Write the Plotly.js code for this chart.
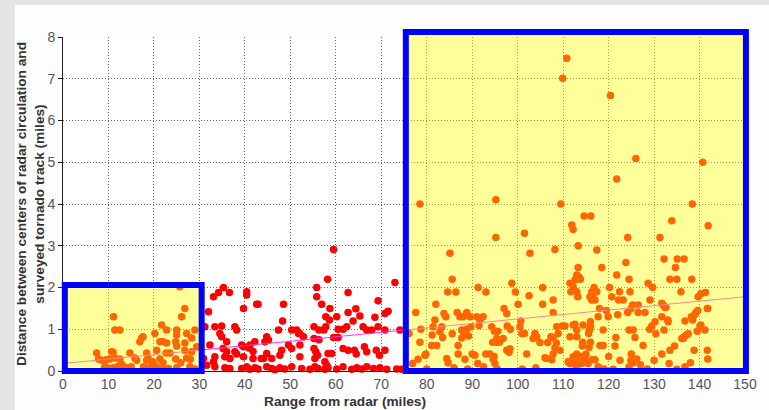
<!DOCTYPE html>
<html>
<head>
<meta charset="utf-8">
<script src="https://cdn.plot.ly/plotly-3.0.1.min.js"></script>
<style>
  html, body { margin: 0; padding: 0; background: #fdfdfd; }
  #wrap { position: relative; width: 769px; height: 410px; background: #fdfdfd;
          box-shadow: inset 15px 5px 0 0 #e4e4e4; overflow: hidden; }
  #chart { position: absolute; left: 0; top: 0; width: 769px; height: 410px; }
</style>
</head>
<body>
<div id="wrap"><div id="chart"></div></div>
<script>
// ---------------- DATA ----------------
// Points within 0-30 miles
const nearPts = [
 [11.1,1.30],[11.4,0.98],[12.5,0.98],[25.7,2.02],[26.8,1.5],[26.1,1.30],[21.7,1.10],[22.8,0.98],
 [25,0.98],[25,0.86],[27.2,0.9],[29,0.98],[28.3,0.79],[20.2,0.9],[17.3,0.79],[16.9,0.7],[21.3,0.7],
 [22,0.7],[22.8,0.67],[24.8,0.7],[25,0.6],[26.8,0.67],[26.8,0.5],[29.4,0.58],[28.3,0.46],[20.6,0.5],
 [22.7,0.43],[23.5,0.43],[18.4,0.43],[18.7,0.31],[14.7,0.43],[10.7,0.46],[7.4,0.43],[7.8,0.29],
 [8.5,0.26],[9.5,0.27],[10.3,0.29],[11.4,0.31],[12.5,0.29],[15.8,0.31],[16.2,0.26],[18.4,0.26],
 [19.7,0.22],[21.3,0.29],[22,0.2],[24.8,0.29],[25.9,0.2],[27.2,0.31],[28,0.28],
 [9.2,0.1],[10.3,0.06],[11.1,0.08],[12.2,0.12],[12.9,0.05],[14,0.08],[14.7,0.03],[17.7,0.1],
 [19.1,0.08],[20.2,0.12],[20.6,0.04],[21.7,0.1],[23.2,0.06],[25,0.08],[27.9,0.1],[29,0.05],[8.9,0.02],
 [13,0.15],[15,0.1],[19,0.02],[20,0.15],[21,0.05],[17.6,0.82],[11,0.45]
];
// Points within 30-75 miles
const midPts = [
 [59.5,2.91],[58.2,2.2],[73.0,2.12],[35.3,2.0],[34.2,1.88],[33.1,1.78],[36.6,1.88],[40.4,1.9],
 [40.4,1.82],[55.8,2.0],[55.8,1.78],[62.7,1.88],[69.3,1.68],[32,1.42],[39.7,1.5],[42.6,1.6],
 [42.9,1.6],[48.5,1.6],[48.3,1.2],[56.9,1.6],[58.7,1.5],[57.8,1.3],[58.6,1.22],[60.2,1.3],
 [62.7,1.4],[64.4,1.49],[63.8,1.2],[65.3,1.32],[68.6,1.29],[70.8,1.38],[71.5,1.43],[31.2,1.06],
 [33.4,1.06],[34.9,1.08],[37.8,1.06],[38.2,0.98],[34.5,0.9],[34.9,0.82],[47.4,0.98],[50.3,0.98],
 [51.4,0.98],[52.1,0.9],[55.2,1.06],[56.3,0.98],[57.4,0.98],[57.8,1.06],[60.5,1.0],[61.6,1.0],
 [62.4,1.06],[66,1.06],[66.8,0.98],[67.9,0.98],[69.3,1.06],[70.8,0.98],[74.1,0.98],[59.5,0.8],
 [60.5,0.8],[55.2,0.78],[56.3,0.75],[51.8,0.9],[52.9,0.82],[44.8,0.82],[45.2,0.74],[44.4,0.7],
 [42.2,0.7],[41.1,0.62],[36,0.7],[39.3,0.62],[39.7,0.58],[40.9,0.55],[41.8,0.47],[32.3,0.62],
 [35.2,0.54],[36,0.46],[37.8,0.46],[38.2,0.41],[48.1,0.5],[47.7,0.38],[44.8,0.42],[44.1,0.3],
 [45.9,0.3],[49.6,0.62],[50.3,0.54],[52.1,0.62],[52.1,0.34],[55.2,0.54],[55.6,0.46],[56,0.38],
 [55.4,0.3],[58.3,0.42],[59.1,0.42],[57.6,0.22],[58,0.14],[61.6,0.54],[62.7,0.5],[64.1,0.5],
 [64.5,0.41],[66.3,0.58],[66.8,0.46],[68.9,0.5],[69.6,0.38],[70.8,0.5],[39.7,0.34],[41.8,0.3],
 [43.6,0.3],[33.4,0.34],[33.1,0.22],[35.6,0.34],[36.7,0.3],[30.9,0.3],[31.6,0.14],[33.4,0.1],
 [35.6,0.08],[36.7,0.06],
 [39.3,0.06],[40.4,0.1],[41.1,0.04],[42.2,0.08],[42.9,0.05],[44.8,0.1],[45.9,0.06],[46.6,0.03],
 [47.7,0.08],[48.8,0.05],[50.3,0.1],[52.5,0.06],[54.3,0.04],[55.4,0.1],[56.1,0.06],[57.6,0.04],
 [58.3,0.08],[60.2,0.05],[61.6,0.1],[63.5,0.04],[64.6,0.08],[65.7,0.05],[66.8,0.1],[68.3,0.06],
 [69.7,0.08],[71.2,0.04],[73.4,0.05],[74.5,0.04]
];
// Points within 75-110 miles
const farPts = [
 [78.5,4.0],[95.2,4.1],[109.5,4.0],[95.2,3.2],[101.5,3.3],[102.7,2.82],[108.2,2.91],[85.1,2.82],
 [85.6,2.2],[84.6,1.89],[86.4,1.89],[91.3,2.0],[93,1.89],[98.7,2.1],[99.5,1.89],[105.5,2.0],
 [102.5,1.8],[107.8,1.7],[77.6,1.4],[82,1.6],[83.8,1.38],[84.2,1.3],[86.7,1.4],[87.3,1.3],
 [88,1.3],[88.8,1.4],[89.5,1.3],[91,1.3],[92.4,1.3],[97,1.5],[97.6,1.38],[100.1,1.6],[105.5,1.6],
 [107.8,1.4],[81.8,1.22],[81.4,1.06],[78.7,1.0],[76.1,0.9],[83.3,1.06],[82.9,0.94],[83.5,0.8],
 [81.2,0.86],[85.6,0.89],[87.7,0.98],[88.2,0.89],[88.8,1.0],[89.2,0.84],[89.7,1.06],[87.7,0.79],
 [91.5,1.09],[91.7,1.22],[94.3,1.06],[94.9,0.95],[95.6,0.95],[96.8,0.78],[95.4,0.78],[97.7,1.08],
 [98.4,1.0],[100.5,1.06],[100.9,0.9],[101.5,0.9],[100.7,1.2],[103.8,0.9],[104.2,0.82],[103.4,0.78],
 [104.9,0.68],[106.6,0.68],[107.3,0.82],[107.8,0.8],[108.5,0.67],[108.2,0.55],[108.6,1.06],
 [109.8,1.08],[108.9,0.9],[78.5,0.69],[81.1,0.61],[82.2,0.61],[86.9,0.61],[86.9,0.41],[84.4,0.3],
 [84.7,0.2],[79.8,0.41],[76.9,0.18],[78.1,0.28],[90,0.41],[91.2,0.18],[93,0.41],[93.9,0.41],
 [94.5,0.69],[95.4,0.69],[96,0.69],[94.6,0.28],[95,0.18],[94.8,0.35],[97.6,0.5],[98.1,0.45],
 [98.3,0.53],[102,0.41],[106,0.32],[107.8,0.41],[107.5,0.27],[79.6,0.38],[88.4,0.28],[90.6,0.38],
 [106.4,0.3],[109.3,0.5],[89,0.05],[101,0.05],[95.5,0.05],[80,0.05],[86,0.08],[92.5,0.1],[104,0.08]
];
// Points within 110-150 miles
const edgePts = [
 [110.8,7.49],[109.9,7.01],[120.4,6.6],[126,5.09],[140.7,5.0],[121.8,4.6],[141.9,3.48],[141.3,1.88],
 [141.7,1.5],[141.2,0.98],[141.7,0.5],[140.3,1.1],[140.3,1.85],[138.4,4.0],[133.9,3.6],[114.6,3.71],
 [116.1,3.71],[111.9,3.5],[112.2,3.39],[124.2,3.2],[131.3,3.2],[113.3,3.0],[117.4,2.9],[123.8,2.6],
 [132.2,2.68],[135.1,2.68],[136.6,2.68],[118.5,2.48],[134.7,2.48],[113.3,2.48],[113.0,2.3],
 [113.5,2.25],[113.8,2.2],[112.9,2.2],[121.8,2.3],[124.5,2.2],[133.5,2.2],[135,2.2],[138.3,2.2],
 [128.7,2.1],[129.7,2.0],[111.5,2.1],[112.2,2.02],[112.6,2.18],[116.8,2.0],[116.3,1.9],[117.4,1.9],
 [120.2,2.0],[113,1.9],[113.2,1.78],[111.7,1.9],[122.4,1.9],[124.7,1.9],[135.9,1.9],[139.7,1.78],
 [120.7,1.78],[122.2,1.7],[123.2,1.7],[115.9,1.78],[116.5,1.82],[116.3,1.7],[117,1.7],[129.1,1.7],
 [131.7,1.62],[132,1.58],[132.4,1.52],[125.3,1.58],[126.5,1.58],[124.9,1.49],[118,1.5],[117.7,1.3],
 [119.9,1.3],[124.2,1.4],[128,1.4],[132.6,1.52],[131.7,1.3],[133,1.22],[136.8,1.2],[138.2,1.3],
 [138.9,1.35],[139.2,1.4],[138.5,1.22],[139.6,1.45],[141.8,1.5],[140.1,1.08],[110.4,1.08],
 [112.2,1.1],[112.6,1.12],[114.4,1.1],[116,1.18],[116,1.06],[115.8,0.98],[115.6,0.9],[113,0.98],
 [118.8,0.98],[124.5,0.98],[125.4,0.98],[125.8,0.8],[129.5,1.08],[130.2,1.18],[130.4,0.89],
 [132.2,0.98],[133.1,1.18],[136.6,0.82],[136.4,0.78],[137.1,0.86],[137.5,0.89],[136.1,0.78],
 [111.5,0.82],[113,0.82],[114.3,0.69],[114.2,0.6],[116,0.69],[115.7,0.56],[118.1,0.61],[118.8,0.61],
 [127.6,0.61],[121.6,0.8],[121.4,0.6],[125,0.41],[124.9,0.26],[131.7,0.41],[133.5,0.5],[138.8,0.5],
 [141.8,0.29],[133.3,0.18],[136.8,0.1],[126.2,0.29],[125.4,0.2],[124.5,0.1],[122.5,0.26],[130,0.26],
 [111.1,0.22],[112.2,0.18],[113,0.41],[111.5,0.18],[112.2,0.34],[113.3,0.26],[114.1,0.18],
 [114.8,0.26],[115.5,0.18],[116.3,0.27],[117,0.27],[112.9,0.1],[117.7,0.1],[113.8,0.35],[115,0.4],
 [119,0.05],[121,0.04],[128.5,0.05],[135,0.04],[127,0.15],[120,0.35],[122,1.35],[119.5,1.45],
 [126.5,1.4],[129,1.0],[134.5,0.6],[139.5,0.95],[138,0.2]
];
// Fitted trend line end points
const trendX = [0, 150];
const trendY = [0.18, 1.78];
// Highlight boxes (data units)
const boxNear = {x0: 0.4, x1: 30.5, y0: 0, y1: 2.06};
const boxFar  = {x0: 75.4, x1: 150.2, y0: 0, y1: 8.12};
// Axis setup
const xRange = [0, 150], yRange = [0, 8];
const xTickStep = 10, yTickStep = 1;

// ---------------- BUILD ----------------
const allPts = nearPts.concat(midPts, farPts, edgePts);
const ptsX = allPts.map(p => p[0]);
const ptsY = allPts.map(p => p[1]);

const dx = v => (v - xRange[0]) / (xRange[1] - xRange[0]);
const dy = v => (v - yRange[0]) / (yRange[1] - yRange[0]);

function boxShapes(b) {
  const base = {type: 'rect', xref: 'x domain', yref: 'y domain',
    x0: dx(b.x0), x1: dx(b.x1), y0: dy(b.y0), y1: dy(b.y1), layer: 'above'};
  return [
    Object.assign({}, base, {fillcolor: 'rgba(255,255,0,0.4)', line: {width: 0}}),
    Object.assign({}, base, {fillcolor: 'rgba(0,0,0,0)', line: {color: '#0000ff', width: 6}})
  ];
}

const traces = [
  {type: 'scatter', mode: 'markers', x: ptsX, y: ptsY, cliponaxis: false,
   marker: {color: '#ff0000', size: 7.5, line: {width: 0}}, hoverinfo: 'skip'},
  {type: 'scatter', mode: 'lines', x: trendX, y: trendY,
   line: {color: '#ff33ff', width: 1}, hoverinfo: 'skip'}
];

const fontFam = '"Liberation Sans", Arial, sans-serif';
const gridStyle = {showgrid: true, gridcolor: '#666', gridwidth: 1, griddash: '1px,2px',
  zeroline: false, showline: true, linecolor: '#222', linewidth: 1,
  tickfont: {family: fontFam, size: 14, color: '#555'}, fixedrange: true};

const layout = {
  width: 769, height: 410,
  margin: {l: 63, r: 24, t: 37, b: 39, pad: 0},
  paper_bgcolor: 'rgba(0,0,0,0)', plot_bgcolor: '#ffffff',
  showlegend: false,
  xaxis: Object.assign({}, gridStyle, {range: xRange, tick0: 0, dtick: xTickStep, ticks: ''}),
  yaxis: Object.assign({}, gridStyle, {range: yRange, tick0: 0, dtick: yTickStep,
    ticks: 'outside', ticklen: 4, tickcolor: '#222'}),
  shapes: boxShapes(boxNear).concat(boxShapes(boxFar)),
  annotations: [
    {xref: 'paper', yref: 'paper', x: -0.0484, y: 0.5, xanchor: 'center', yanchor: 'middle',
     textangle: -90, showarrow: false, align: 'center',
     text: '<b>Distance between centers of radar circulation and<br>surveyed tornado track (miles)</b>',
     font: {family: fontFam, size: 13.7, color: '#333'}},
    {xref: 'paper', yref: 'paper', x: 0.4135, y: -0.09, xanchor: 'center', yanchor: 'middle',
     showarrow: false, text: '<b>Range from radar (miles)</b>',
     font: {family: fontFam, size: 13.7, color: '#333'}}
  ]
};

Plotly.newPlot('chart', traces, layout, {staticPlot: true, displayModeBar: false});
</script>
</body>
</html>
